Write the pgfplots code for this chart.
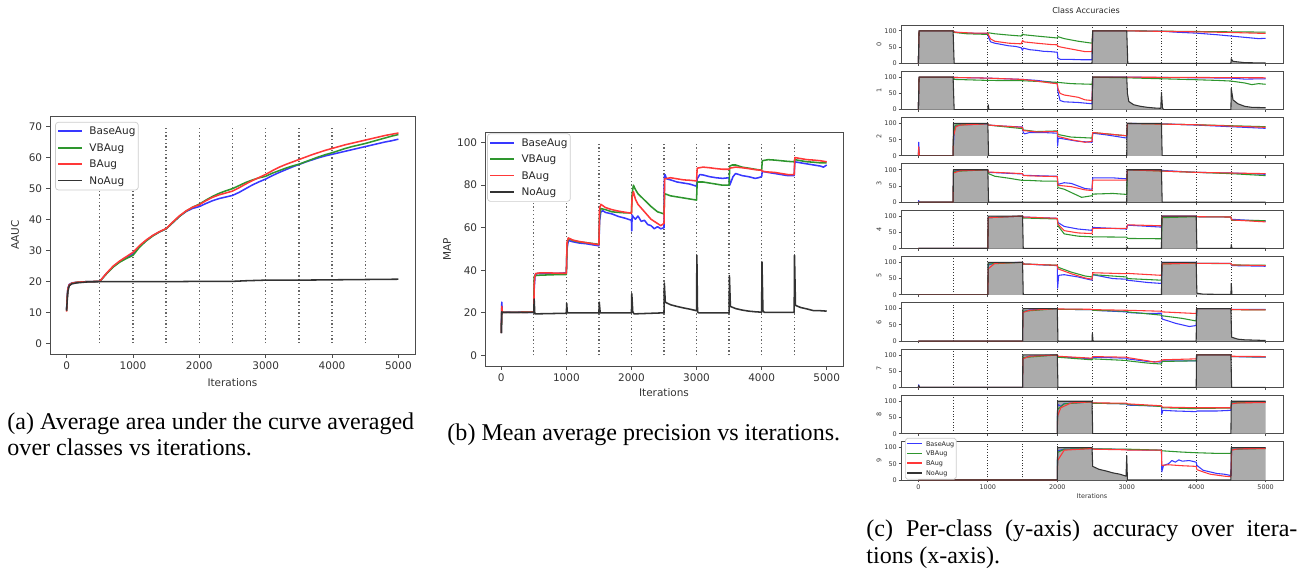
\documentclass[border=0pt]{standalone}
\usepackage{fontspec}
\setmainfont{Liberation Serif}
\newfontfamily\dejavu{DejaVu Sans}
\usepackage{pgfplots}
\pgfplotsset{compat=1.18}

\definecolor{mplgreen}{rgb}{0,0.5,0}
\colorlet{lb}{blue!78}
\colorlet{lg}{mplgreen!82}
\colorlet{lr}{red!78}
\colorlet{lk}{black!80}
\tikzset{
  cb/.style={color=lb},
  cg/.style={color=lg},
  cr/.style={color=lr},
  ck/.style={color=lk},
  bigline/.style={line width=0.65pt, line join=round},
  smline/.style={line width=0.45pt, line join=round},
  vline/.style={black!60, line width=0.55pt, dash pattern=on 0.55pt off 1pt},
}
\pgfplotsset{
  mplbase/.style={
    scale only axis, anchor=north west, clip mode=individual,
    axis line style={black!70, line width=0.35pt},
    tick style={black!70, line width=0.35pt},
    tick align=outside, xtick pos=left, ytick pos=left,
    xmin=-250, xmax=5250,
    /pgf/number format/1000 sep={},
    /pgf/number format/assume math mode=true,
    scaled ticks=false,
  },
  big/.style={
    major tick length=1.5pt,
    tick label style={font=\dejavu\fontsize{4.4}{5}\selectfont, black!80, inner sep=1.6pt},
    label style={font=\dejavu\fontsize{4.4}{5}\selectfont, black!80},
  },
  classax/.style={
    mplbase, width=160.44pt, height=16.09pt, ymin=0, ymax=118,
    ytick={0,50,100}, xtick={0,1000,...,5000}, xticklabels={},
    major tick length=1pt,
    tick label style={font=\dejavu\fontsize{2.7}{3}\selectfont, black!80, inner sep=0.6pt},
    label style={font=\dejavu\fontsize{2.7}{3}\selectfont, black!80},
    ylabel style={at={(axis description cs:-0.0576,0.5)}, anchor=center},
    xlabel style={at={(axis description cs:0.5,-0.41)}, anchor=center},
    extra x ticks={500,1000,...,4500}, extra x tick labels={},
    extra x tick style={grid=major, major tick length=0pt,
      major grid style={black!80, line width=0.35pt, dash pattern=on 0.35pt off 0.8pt}},
  },
}

% legend box drawn as a node in axis description coordinates
\newcommand\legline[3]{\textcolor{#1}{\rule[0.25em]{#2}{#3}}}
\newcommand\mpllegend[6]{%
\node[anchor=north west, draw=black!20, fill=white, rounded corners=#6, inner xsep=#6,
  inner ysep=0.4pt, line width=0.3pt, font=\dejavu\fontsize{#2}{#3}\selectfont, text=black!85]
  at (axis description cs:#1) {%
  \begin{tabular}{@{}l@{\hspace{0.7em}}l@{}}
  \legline{lb}{#4}{#5} & BaseAug\\
  \legline{lg}{#4}{#5} & VBAug\\
  \legline{lr}{#4}{#5} & BAug\\
  \legline{lk}{#4}{#5} & NoAug
  \end{tabular}};}

\newcommand\classaxis[7]{%
\pgfmathsetmacro\ctop{-(10.5+19.446*#1)}
\begin{axis}[classax, at={(378.42pt,\ctop pt)}, ylabel={#1}, #6]
\addplot[draw=none, fill=black!33] coordinates {#5} \closedcycle;
\addplot[cb, smline] coordinates {#2};
\addplot[cg, smline] coordinates {#3};
\addplot[cr, smline] coordinates {#4};
\addplot[ck, smline] coordinates {#5};
#7
\end{axis}}

\begin{document}
\begin{tikzpicture}
\path[use as bounding box] (0,0) rectangle (545.58pt,-241.08pt);

% ---- (a) AAUC
\begin{axis}[mplbase, big, at={(21pt,-48.72pt)}, width=153.3pt, height=99.96pt,
  ymin=-3.5, ymax=73.5, ytick={0,10,...,70}, xtick={0,1000,...,5000},
  xlabel={Iterations}, ylabel={AAUC},
  xlabel style={at={(axis description cs:0.5,-0.118)}, anchor=center},
  ylabel style={at={(axis description cs:-0.096,0.5)}, anchor=center}]
\pgfplotsinvokeforeach{500,1000,...,4500}{\addplot[vline] coordinates {(#1,0)(#1,70)};}
\addplot[cb, bigline] coordinates {(0,10.8)(10,15.5)(20,17.8)(40,19)(80,19.5)(150,19.7)(300,19.9)(500,20)
 (600,22.5)(700,24.7)(800,26.4)(900,27.7)(1000,28.9)(1100,31.3)(1200,33.2)(1300,34.8)(1400,36)(1500,37)
 (1600,39)(1700,41)(1800,42.6)(1900,43.6)(2000,44.2)(2100,45.2)(2200,46.1)(2300,46.8)(2400,47.3)(2500,47.8)
 (2600,48.8)(2700,50)(2800,51.2)(2900,52.2)(3000,53.1)(3100,54.2)(3200,55.2)(3300,56.1)(3400,57)(3500,57.8)
 (3600,58.6)(3700,59.3)(3800,60)(3900,60.6)(4000,61.1)(4100,61.6)(4200,62.1)(4300,62.6)(4400,63.1)(4500,63.6)
 (4600,64.1)(4700,64.6)(4800,65.1)(4900,65.5)(5000,66)};
\addplot[cg, bigline] coordinates {(0,10.5)(10,15)(20,17.5)(40,18.8)(80,19.4)(150,19.7)(300,19.9)(500,20)
 (600,22.4)(700,24.6)(800,26.2)(900,27.4)(1000,28.4)(1100,31.1)(1200,33.1)(1300,34.7)(1400,36)(1500,37)
 (1600,39)(1700,41)(1800,42.7)(1900,44)(2000,45)(2100,46.3)(2200,47.5)(2300,48.5)(2400,49.3)(2500,50)
 (2600,51)(2700,52)(2800,52.8)(2900,53.5)(3000,54)(3100,55)(3200,55.8)(3300,56.6)(3400,57.3)(3500,57.9)
 (3600,58.7)(3700,59.5)(3800,60.3)(3900,61)(4000,61.6)(4100,62.3)(4200,63)(4300,63.6)(4400,64.1)(4500,64.6)
 (4600,65.2)(4700,65.8)(4800,66.4)(4900,67)(5000,67.5)};
\addplot[cr, bigline] coordinates {(0,10.2)(10,15)(20,17.6)(40,18.9)(80,19.4)(150,19.7)(300,19.9)(500,20)
 (600,22.6)(700,24.9)(800,26.6)(900,28)(1000,29.4)(1100,31.6)(1200,33.4)(1300,34.9)(1400,36.1)(1500,37.1)
 (1600,39.2)(1700,41.2)(1800,42.8)(1900,44)(2000,44.8)(2100,46.1)(2200,47.2)(2300,48)(2400,48.6)(2500,49.2)
 (2600,50.3)(2700,51.5)(2800,52.6)(2900,53.6)(3000,54.6)(3100,55.8)(3200,56.9)(3300,57.8)(3400,58.6)(3500,59.4)
 (3600,60.2)(3700,61)(3800,61.7)(3900,62.4)(4000,63)(4100,63.6)(4200,64.2)(4300,64.7)(4400,65.2)(4500,65.7)
 (4600,66.2)(4700,66.7)(4800,67.2)(4900,67.6)(5000,68)};
\addplot[ck, bigline] coordinates {(0,10.5)(10,14)(20,16.8)(40,18.6)(80,19.2)(150,19.5)(300,19.8)(500,19.9)
 (1000,19.9)(1500,19.9)(2000,20)(2500,20)(2700,20.2)(3000,20.4)(3500,20.4)(4000,20.5)(4500,20.6)(5000,20.7)};
\mpllegend{0.014,0.975}{4.4}{6.9}{10pt}{0.8pt}{1.2pt}
\end{axis}

% ---- (b) MAP
\begin{axis}[mplbase, big, at={(203.7pt,-55.44pt)}, width=150.36pt, height=98.28pt,
  ymin=-5, ymax=105, ytick={0,20,...,100}, xtick={0,1000,...,5000},
  xlabel={Iterations}, ylabel={MAP},
  xlabel style={at={(axis description cs:0.5,-0.115)}, anchor=center},
  ylabel style={at={(axis description cs:-0.106,0.5)}, anchor=center}]
\pgfplotsinvokeforeach{500,1000,...,4500}{\addplot[vline] coordinates {(#1,0)(#1,100)};}
\addplot[cb, bigline] coordinates {(0,10.5)(8,25)(15,20.5)(30,20.2)(100,20.3)(200,20.2)(300,20.3)(400,20.2)(500,20.3)
 (505,31)(520,38)(560,38.5)(620,38.4)(700,38.6)(800,38.5)(900,38.6)(1000,38.8)
 (1010,50)(1030,54)(1100,53.4)(1200,52.8)(1300,52.5)(1400,52)(1500,51.5)
 (1510,63)(1530,67.5)(1560,68)(1600,67.2)(1700,66.5)(1800,65.3)(1900,64.5)(2000,63.5)
 (2005,58.5)(2010,66)(2030,65)(2060,64)(2100,65.5)(2150,63)(2200,63.5)(2250,61.5)(2300,61)(2350,59.5)(2400,60.5)(2450,59.5)(2500,60)
 (2505,84)(2515,85)(2540,83)(2600,82.5)(2700,81.5)(2800,81)(2900,80.5)(3000,79.5)
 (3010,83)(3050,85)(3100,84.8)(3200,84)(3300,83.5)(3400,83.2)(3500,83.5)
 (3510,80)(3560,84)(3600,85.5)(3650,85)(3700,84.5)(3800,84)(3900,83.2)(3950,83.5)(4000,84)
 (4010,86.5)(4100,86)(4200,85.5)(4300,85)(4400,84.5)(4500,84.5)
 (4510,91)(4600,90.5)(4700,90)(4800,89.5)(4900,89)(4950,88.5)(5000,89.5)};
\addplot[cg, bigline] coordinates {(0,10.5)(8,21)(15,20.5)(30,20.2)(500,20.3)
 (505,37)(520,37.5)(600,37.7)(700,37.8)(800,37.9)(900,38)(1000,38)
 (1010,52)(1030,55)(1100,54)(1200,53.3)(1300,53)(1400,52.6)(1500,52.2)
 (1510,66)(1530,69)(1600,68.5)(1700,67.5)(1800,67.2)(1900,67)(2000,67)
 (2010,76)(2030,80)(2060,78)(2100,76)(2200,73)(2300,70)(2400,67.5)(2450,67)(2500,66.5)
 (2510,76)(2600,75)(2700,74.5)(2800,74)(2900,73.5)(3000,73)
 (3010,81.5)(3100,81.5)(3200,81)(3300,80.5)(3400,80)(3500,80)
 (3510,89)(3550,89.5)(3600,89.5)(3700,88.5)(3800,88)(3900,87.5)(4000,87)
 (4010,91.5)(4100,92)(4200,91.8)(4300,91.5)(4400,91.2)(4500,91)
 (4510,92)(4600,91.5)(4700,91)(4800,90.8)(4900,90.5)(5000,90.5)};
\addplot[cr, bigline] coordinates {(0,10.5)(8,23)(15,20.5)(30,20.2)(500,20.3)
 (505,33)(515,37)(530,38.5)(600,38.8)(700,38.8)(800,38.7)(900,38.6)(1000,38.6)
 (1010,53)(1030,55.2)(1100,54.2)(1200,53.5)(1300,53)(1400,52.5)(1500,52)
 (1510,69)(1530,71)(1600,69.5)(1700,68.5)(1800,67.8)(1900,67.3)(2000,66.8)
 (2010,74)(2030,77)(2060,73.5)(2100,71)(2200,67.5)(2300,64)(2400,62)(2450,61)(2500,62)
 (2510,83)(2600,83.5)(2700,83)(2800,82.5)(2900,82.3)(3000,82)
 (3010,88)(3100,88.5)(3200,88.2)(3300,87.8)(3400,87.5)(3500,87.5)
 (3510,88)(3600,88.5)(3700,88.2)(3800,87.8)(3900,87.3)(4000,87)
 (4010,86.5)(4100,86.2)(4200,86)(4300,85.5)(4400,85)(4500,85)
 (4510,93)(4600,92.5)(4700,92)(4800,91.8)(4900,91.5)(5000,91)};
\addplot[ck, bigline] coordinates {(0,10.5)(8,20.5)(15,20.2)(500,20.2)(505,26.5)(515,19.5)(1000,19.8)(1005,24.5)(1015,20)
 (1500,20)(1505,25)(1520,20)(2000,20)(2005,29)(2020,20.5)(2040,19.5)(2500,20)(2505,34)(2520,25)(2600,23.8)
 (2700,23)(2800,22.3)(2900,21.7)(3000,21)(3005,47)(3015,20.5)(3030,20)(3500,20)(3505,37.5)(3520,23)(3600,22)
 (3700,21.3)(3800,20.8)(3900,20.5)(4000,20.3)(4005,44)(4020,21)(4040,20.2)(4500,20.2)(4505,47)(4520,23.5)
 (4600,22.5)(4700,21.8)(4800,21)(4900,21)(5000,20.8)};
\mpllegend{0.006,0.994}{4.4}{6.9}{10pt}{0.8pt}{1.2pt}
\end{axis}

% ---- (c) per-class accuracies
\node[font=\dejavu\fontsize{3.4}{4}\selectfont, black!85] at (456.12pt,-4.2pt) {Class Accuracies};

\classaxis{0}
{(0,0)(10,100)(500,100)(520,96)(700,93)(900,92)(1000,92)(1010,80)(1040,66)(1100,62)(1200,58)(1300,54)(1400,52)(1480,48)(1500,40)(1510,47)(1600,42)(1700,40)(1800,37)(1900,36)(2000,34)(2010,15)(2050,12)(2200,12)(2350,11)(2500,11)(2510,100)(3000,100)(3500,99)(3700,96)(4000,93)(4300,88)(4500,84)(4700,80)(4900,76)(5000,77)}
{(0,0)(10,100)(500,100)(520,95)(700,91)(1000,89)(1010,94)(1100,91)(1300,87)(1480,84)(1500,90)(1520,88)(1700,84)(1900,80)(2000,78)(2010,82)(2100,76)(2300,68)(2500,62)(2510,100)(3000,100)(4000,98)(5000,96)}
{(0,0)(10,100)(500,100)(520,96)(800,93)(1000,93)(1010,88)(1040,75)(1100,68)(1300,62)(1480,60)(1500,70)(1520,66)(1700,62)(1900,58)(2000,57)(2010,52)(2100,48)(2300,40)(2400,36)(2500,36)(2510,100)(3000,100)(4000,97)(4500,95)(5000,92)}
{(0,0)(10,100)(500,100)(515,0)(2500,0)(2510,100)(3000,100)(3015,0)(4500,0)(4505,14)(4530,6)(4700,2)(5000,1)}
{}{}

\classaxis{1}
{(0,0)(10,100)(500,100)(520,99)(1000,97)(1500,93)(1700,90)(1900,85)(2000,80)(2010,55)(2040,28)(2100,24)(2300,22)(2400,20)(2500,18)(2510,100)(3000,100)(3500,99)(4000,98)(4500,97)(4700,94)(5000,95)}
{(0,0)(10,100)(500,100)(520,93)(1000,90)(1500,89)(2000,84)(2200,80)(2500,78)(2510,100)(3000,98)(3500,95)(4000,92)(4300,90)(4500,88)(4700,82)(4800,77)(4900,80)(5000,78)}
{(0,0)(10,100)(500,100)(520,99)(1000,97)(1500,93)(1700,88)(1900,82)(2000,80)(2010,65)(2040,50)(2100,45)(2300,38)(2400,30)(2500,28)(2510,100)(3000,100)(5000,98)}
{(0,0)(10,100)(500,100)(515,0)(1000,0)(1005,15)(1015,0)(1500,0)(1505,3)(1515,0)(2500,0)(2510,100)(3000,100)(3010,50)(3030,25)(3100,15)(3200,10)(3300,7)(3400,5)(3490,4)(3500,53)(3515,5)(3530,0)(4500,0)(4505,65)(4530,30)(4600,18)(4700,10)(4800,7)(5000,6)}
{}{}

\classaxis{2}
{(0,0)(5,42)(15,0)(500,0)(505,35)(520,90)(600,96)(1000,98)(1010,95)(1200,92)(1400,90)(1500,89)(1510,72)(1530,68)(1600,72)(1800,72)(2000,70)(2005,30)(2015,55)(2100,52)(2300,45)(2500,42)(2510,70)(2700,65)(3000,55)(3010,100)(3500,99)(4000,95)(4500,90)(5000,85)}
{(0,0)(5,20)(15,0)(500,0)(505,60)(530,95)(1000,99)(1010,95)(1500,84)(1510,80)(1700,75)(2000,77)(2010,66)(2200,58)(2500,55)(2510,72)(3000,62)(3010,100)(4000,96)(5000,90)}
{(0,0)(5,28)(15,0)(500,0)(505,60)(540,90)(600,95)(1000,99)(1010,95)(1500,88)(1510,78)(1700,74)(2000,75)(2010,60)(2200,50)(2400,42)(2500,45)(2510,72)(3000,62)(3010,100)(4000,96)(5000,88)}
{(0,0)(500,0)(505,100)(1000,100)(1010,0)(3000,0)(3005,100)(3500,100)(3510,0)(5000,0)}
{}{}

\classaxis{3}
{(0,0)(5,5)(15,0)(500,0)(505,95)(600,98)(1000,100)(1010,92)(1300,89)(1500,87)(1510,83)(1800,81)(2000,80)(2010,55)(2100,60)(2200,58)(2400,42)(2500,40)(2510,75)(2800,75)(3000,72)(3010,100)(3500,98)(4000,92)(4500,90)(5000,86)}
{(0,0)(500,0)(505,95)(1000,100)(1010,88)(1100,80)(1300,74)(1500,67)(1600,67)(1800,65)(2000,65)(2010,45)(2100,40)(2200,30)(2300,20)(2350,15)(2500,20)(2510,25)(2800,27)(3000,24)(3010,100)(3500,96)(4000,92)(4500,88)(5000,82)}
{(0,0)(500,0)(505,90)(600,97)(1000,100)(1010,93)(1500,88)(1510,82)(1800,80)(2000,79)(2010,52)(2200,48)(2400,38)(2500,36)(2510,68)(3000,68)(3010,100)(3500,96)(4000,92)(4500,90)(5000,88)}
{(0,0)(500,0)(505,100)(1000,100)(1010,0)(3000,0)(3005,100)(3500,100)(3510,0)(5000,0)}
{}{}

\classaxis{4}
{(0,0)(1000,0)(1005,95)(1500,100)(1510,97)(2000,93)(2010,80)(2100,68)(2300,60)(2500,56)(2510,65)(3000,60)(3010,72)(3500,66)(3510,100)(4000,100)(4010,98)(4500,97)(4510,90)(5000,84)}
{(0,0)(1000,0)(1005,95)(1500,100)(1510,94)(2000,91)(2010,70)(2100,45)(2300,38)(2500,36)(2510,36)(3000,35)(3010,31)(3500,30)(3510,95)(4000,98)(4010,98)(4500,97)(4510,87)(5000,86)}
{(0,0)(1000,0)(1005,95)(1500,100)(1510,97)(2000,93)(2010,75)(2100,55)(2300,48)(2500,46)(2510,62)(3000,62)(3010,73)(3500,70)(3510,100)(4000,100)(4010,98)(4500,97)(4510,88)(5000,82)}
{(0,0)(1000,0)(1005,100)(1500,100)(1510,0)(3000,0)(3005,6)(3015,0)(3500,0)(3505,100)(4000,100)(4010,0)(4500,0)(4505,12)(4515,0)(5000,0)}
{}{}

\classaxis{5}
{(0,0)(1000,0)(1005,92)(1100,98)(1500,100)(1510,95)(2000,90)(2005,20)(2020,60)(2100,62)(2300,55)(2500,45)(2510,62)(2800,50)(3000,48)(3010,45)(3300,38)(3500,35)(3510,100)(4000,100)(4010,97)(4500,97)(4510,90)(5000,88)}
{(0,0)(1000,0)(1005,95)(1500,100)(1510,95)(2000,91)(2010,85)(2200,70)(2400,58)(2500,55)(2510,62)(3000,55)(3010,50)(3500,45)(3510,95)(4000,98)(4010,97)(4500,96)(4510,92)(5000,91)}
{(0,0)(1000,0)(1005,80)(1100,97)(1500,100)(1510,95)(2000,91)(2010,80)(2200,65)(2400,52)(2500,48)(2510,68)(3000,65)(3010,66)(3500,60)(3510,95)(4000,98)(4010,97)(4500,97)(4510,92)(5000,90)}
{(0,0)(1000,0)(1005,100)(1500,100)(1510,0)(3500,0)(3505,100)(4000,100)(4010,5)(4100,2)(4500,1)(4505,35)(4515,0)(5000,0)}
{}{}

\classaxis{6}
{(0,0)(1500,0)(1505,90)(1600,96)(2000,100)(2010,98)(2500,97)(2510,95)(3000,90)(3010,88)(3300,85)(3500,86)(3510,68)(3600,62)(3700,55)(3800,50)(3900,45)(4000,48)(4010,100)(4500,100)(4510,98)(5000,98)}
{(0,0)(1500,0)(1505,92)(2000,100)(2010,98)(2500,97)(2510,95)(3000,92)(3010,90)(3500,80)(3510,78)(3800,70)(4000,62)(4010,100)(4500,100)(4510,97)(5000,96)}
{(0,0)(1500,0)(1505,88)(1600,95)(2000,100)(2010,99)(2500,98)(2510,97)(3000,95)(3010,95)(3500,92)(3510,90)(4000,85)(4010,100)(4500,100)(4510,97)(5000,96)}
{(0,0)(1500,0)(1505,100)(2000,100)(2010,0)(2500,0)(2505,25)(2515,0)(4000,0)(4005,100)(4500,100)(4510,12)(4600,6)(4700,4)(5000,2)}
{}{}

\classaxis{7}
{(0,0)(5,8)(15,0)(1500,0)(1505,90)(1600,96)(2000,100)(2010,95)(2500,88)(2510,93)(3000,90)(3010,88)(3300,80)(3500,78)(3510,82)(4000,82)(4010,100)(4500,100)(4510,95)(5000,93)}
{(0,0)(1500,0)(1505,92)(2000,100)(2010,93)(2500,85)(2510,88)(3000,83)(3010,82)(3300,75)(3500,72)(3510,80)(4000,82)(4010,100)(4500,100)(4510,95)(5000,94)}
{(0,0)(1500,0)(1505,88)(1600,96)(2000,100)(2010,96)(2500,90)(2510,95)(3000,93)(3010,92)(3300,82)(3400,78)(3500,82)(3510,85)(4000,88)(4010,100)(4500,100)(4510,96)(5000,95)}
{(0,0)(5,6)(15,0)(1500,0)(1505,100)(2000,100)(2010,0)(4000,0)(4005,100)(4500,100)(4510,0)(5000,0)}
{}{}

\classaxis{8}
{(0,0)(2000,0)(2005,90)(2050,85)(2100,93)(2500,98)(2510,94)(3000,92)(3010,88)(3500,85)(3505,60)(3520,72)(3700,70)(4000,68)(4010,70)(4300,70)(4500,72)(4510,95)(5000,98)}
{(0,0)(2000,0)(2005,75)(2100,92)(2500,98)(2510,94)(3000,92)(3010,90)(3500,84)(3510,80)(4000,77)(4010,78)(4500,79)(4510,95)(5000,97)}
{(0,0)(2000,0)(2005,55)(2050,80)(2200,95)(2500,98)(2510,95)(3000,94)(3010,92)(3500,86)(3510,82)(4000,80)(4010,80)(4500,80)(4510,92)(4600,95)(5000,96)}
{(0,0)(2000,0)(2005,100)(2500,100)(2510,0)(4500,0)(4505,100)(5000,100)}
{}{}

\classaxis{9}
{(0,0)(2000,0)(2005,90)(2100,95)(2500,97)(2510,96)(3000,94)(3010,93)(3500,92)(3505,25)(3530,45)(3600,50)(3650,60)(3700,55)(3750,62)(3800,58)(3900,60)(4000,55)(4010,45)(4100,30)(4200,25)(4300,20)(4400,18)(4500,14)(4510,95)(5000,98)}
{(0,0)(2000,0)(2005,85)(2100,95)(2500,97)(2510,96)(3000,95)(3010,95)(3500,92)(3510,90)(3800,86)(4000,84)(4010,84)(4300,82)(4500,82)(4510,95)(5000,97)}
{(0,0)(2000,0)(2005,60)(2100,92)(2500,97)(2510,95)(3000,93)(3010,92)(3500,92)(3505,45)(3600,47)(3800,44)(4000,42)(4010,32)(4100,25)(4200,18)(4300,15)(4400,12)(4500,10)(4510,92)(4600,96)(5000,97)}
{(0,0)(2000,0)(2005,100)(2500,100)(2510,42)(2550,38)(2600,33)(2700,28)(2800,22)(2900,18)(2990,12)(3000,75)(3010,0)(4500,0)(4505,100)(5000,100)}
{xticklabels={0,1000,2000,3000,4000,5000}, xlabel={Iterations}}
{\mpllegend{0.0105,1.1}{2.7}{4.1}{6pt}{0.65pt}{0.8pt}}

% ---- captions
\begin{scope}[every node/.style={anchor=base west, inner sep=0pt, font=\fontsize{10.1}{12}\selectfont}]
\node at (2.94pt,-180.3pt) {(a) Average area under the curve averaged};
\node at (2.94pt,-191.1pt) {over classes vs iterations.};
\node at (187.74pt,-184.8pt) {(b) Mean average precision vs iterations.};
\node at (363.72pt,-225.5pt) {\hbox to 181pt{(c) Per-class (y-axis) accuracy over itera-}};
\node at (363.72pt,-236.5pt) {tions (x-axis).};
\end{scope}
\end{tikzpicture}
\end{document}
